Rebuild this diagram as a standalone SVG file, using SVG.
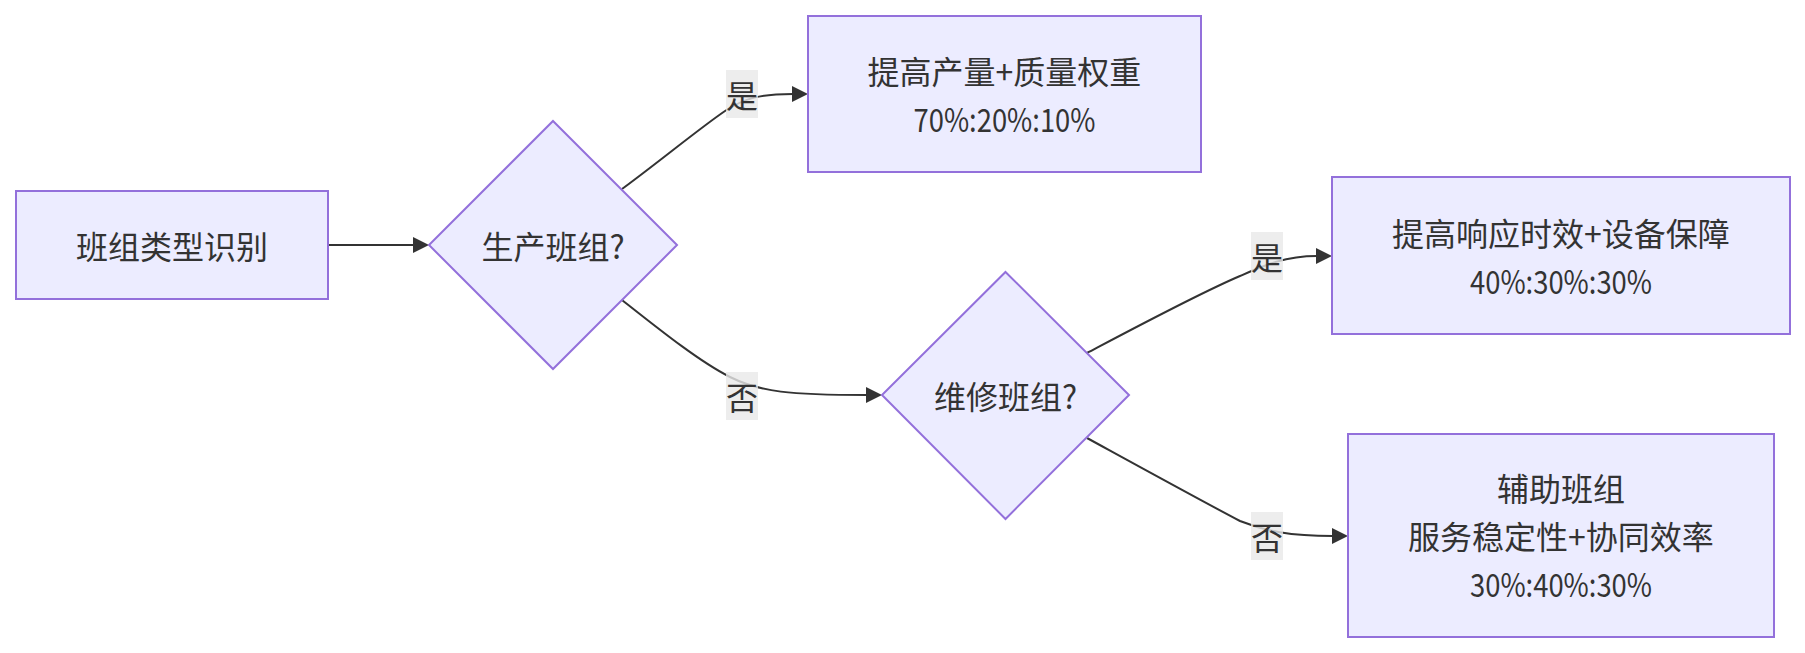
<svg xmlns="http://www.w3.org/2000/svg" width="1805" height="653" viewBox="0 0 1805 653">
<style>
.node rect,.node polygon{fill:#ECECFF;stroke:#9370DB;stroke-width:2}
text{font-family:"Noto Sans CJK SC","Noto Sans",sans-serif;font-size:32px;fill:#333333;text-anchor:middle;dominant-baseline:central}
.edge{fill:none;stroke:#333333;stroke-width:2}
.lbl{fill:#E8E8E8;fill-opacity:0.8}
.arrow{fill:#333333}
</style>
<rect width="1805" height="653" fill="#ffffff"/>
<g id="connectors">
<path class="edge" d="M328,245 L414,245"/>
<polygon class="arrow" points="413,237 429,245 413,253"/>
<path class="edge" d="M622,189 C660,161 700,128 725,111 C745,98 760,94 793,94"/>
<polygon class="arrow" points="792,86 808,94 792,102"/>
<path class="edge" d="M622,300 C660,330 700,362 730,377 C760,392 790,395 867,395"/>
<polygon class="arrow" points="866,387 882,395 866,403"/>
<path class="edge" d="M1087,353 C1140,325 1200,293 1240,276 C1265,265 1285,256 1317,256"/>
<polygon class="arrow" points="1316,248 1332,256 1316,264"/>
<path class="edge" d="M1087,438 C1140,467 1200,500 1240,521 C1265,531 1290,536 1333,536"/>
<polygon class="arrow" points="1332,528 1348,536 1332,544"/>
<g id="label-yes-1"><rect class="lbl" x="726" y="70" width="32" height="48"/><text x="742" y="94">是</text></g>
<g id="label-no-1"><rect class="lbl" x="726" y="372" width="32" height="48"/><text x="742" y="396">否</text></g>
<g id="label-yes-2"><rect class="lbl" x="1251" y="232" width="32" height="48"/><text x="1267" y="256">是</text></g>
<g id="label-no-2"><rect class="lbl" x="1251" y="512" width="32" height="48"/><text x="1267" y="536">否</text></g>
</g>
<g id="A" class="node"><rect x="16" y="191" width="312" height="108"/><text x="172" y="245">班组类型识别</text></g>
<g id="B" class="node"><polygon points="553,121 677,245 553,369 429,245"/><text x="553" y="245">生产班组?</text></g>
<g id="C" class="node"><rect x="808" y="16" width="393" height="156"/><text x="1004.5" y="70">提高产量+质量权重</text><text x="1004.5" y="118" textLength="182" lengthAdjust="spacingAndGlyphs">70%:20%:10%</text></g>
<g id="D" class="node"><polygon points="1005.5,272 1129,395 1005.5,519 882,395"/><text x="1005.5" y="395">维修班组?</text></g>
<g id="E" class="node"><rect x="1332" y="177" width="458" height="157"/><text x="1561" y="232">提高响应时效+设备保障</text><text x="1561" y="280" textLength="182" lengthAdjust="spacingAndGlyphs">40%:30%:30%</text></g>
<g id="F" class="node"><rect x="1348" y="434" width="426" height="203"/><text x="1561" y="487">辅助班组</text><text x="1561" y="535">服务稳定性+协同效率</text><text x="1561" y="583" textLength="182" lengthAdjust="spacingAndGlyphs">30%:40%:30%</text></g>
</svg>
